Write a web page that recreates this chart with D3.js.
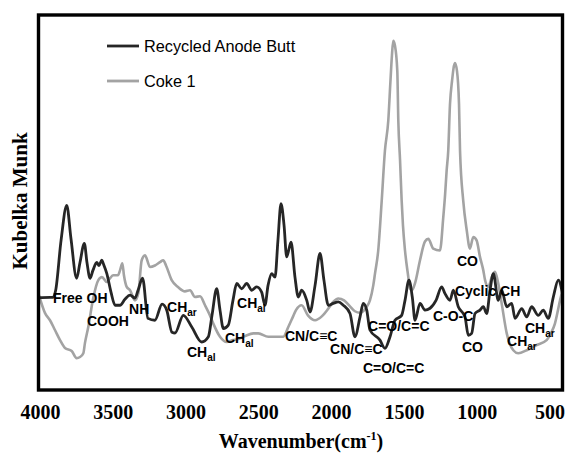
<!DOCTYPE html>
<html>
<head>
<meta charset="utf-8">
<script src="https://cdn.jsdelivr.net/npm/d3@7/dist/d3.min.js"></script>
<style>
  html, body { margin: 0; padding: 0; background: #fff; }
  svg { display: block; }
</style>
</head>
<body>
<svg id="chart" width="583" height="460"></svg>
<script>
// Diffuse-reflectance FTIR spectra (Kubelka-Munk units, arbitrary scale)
const seriesNames = ["Recycled Anode Butt", "Coke 1"];

const anodeWavenumber = [4000,3921,3900,3882,3845,3806,3777,3738,3715,3685,3667,3646,3626,3600,3584,3566,3550,3531,3502,3474,3440,3406,3371,3337,3316,3285,3248,3200,3151,3119,3083,3062,3005,2947,2879,2833,2808,2776,2753,2730,2696,2664,2638,2604,2570,2535,2501,2467,2444,2423,2398,2375,2355,2334,2313,2295,2265,2238,2215,2192,2157,2135,2100,2066,2039,2009,1975,1940,1906,1860,1826,1791,1769,1745,1723,1654,1620,1585,1551,1505,1482,1455,1432,1413,1379,1345,1310,1269,1230,1207,1173,1150,1116,1070,1047,1024,1001,967,944,921,898,875,841,818,783,749,726,680,646,612,566,532,498,463,429,400];
const anodeKM = [24.6,24.7,24.7,26.6,39.9,49.2,40.4,29.8,34.0,39.1,34.0,29.8,31.9,34.0,33.2,34.6,33.2,31.1,26.1,22.6,22.6,24.2,25.3,24.5,26.6,29.8,19.1,18.6,22.9,21.3,15.4,15.2,19.9,16.8,12.8,14.2,19.9,27.0,21.3,16.4,17.3,23.9,28.4,27.0,28.4,26.6,27.5,26.1,22.6,27.9,31.0,30.1,39.9,49.7,43.9,35.5,39.4,30.1,24.8,26.6,23.9,20.8,27.9,36.4,29.3,22.6,23.1,23.5,22.6,20.4,14.2,19.5,23.1,21.3,16.0,13.3,11.1,14.2,18.6,19.9,23.9,29.3,24.8,18.6,23.1,21.3,21.8,23.9,27.5,25.7,23.9,26.6,22.2,19.5,14.6,15.1,20.4,21.3,22.2,20.4,26.6,31.0,23.9,26.6,22.2,23.1,19.1,21.7,19.5,22.2,19.9,21.3,19.1,24.8,29.3,25.7];

const cokeWavenumber = [4000,3955,3921,3887,3852,3818,3772,3738,3715,3692,3681,3658,3624,3589,3564,3531,3509,3486,3454,3440,3424,3413,3394,3371,3337,3314,3291,3268,3234,3200,3165,3143,3124,3085,3040,2994,2959,2925,2890,2856,2822,2799,2753,2707,2664,2627,2581,2524,2490,2421,2364,2318,2284,2250,2231,2192,2149,2100,2052,2009,1977,1940,1901,1860,1826,1791,1745,1723,1700,1688,1666,1642,1620,1597,1582,1572,1563,1551,1535,1528,1516,1505,1496,1482,1461,1448,1434,1413,1379,1345,1322,1288,1242,1219,1207,1196,1185,1173,1159,1139,1125,1111,1104,1082,1058,1036,1013,990,967,944,932,910,886,864,843,818,783,738,704,646,577,509,479,452,431,417,400];
const cokeKM = [25.7,20.5,18.6,16.0,13.3,11.2,10.4,8.5,8.8,9.8,12.5,16.8,24.5,29.3,30.1,28.8,29.8,30.6,30.6,31.9,33.8,30.6,27.5,26.6,23.9,25.8,34.6,35.9,32.8,33.2,34.1,34.6,33.2,29.3,27.4,26.3,26.6,24.8,25.0,22.6,19.9,17.7,14.2,12.8,13.3,13.6,14.4,15.1,15.1,14.2,14.2,14.2,16.8,19.7,21.3,22.6,19.9,18.6,19.7,21.7,23.4,24.4,23.9,22.3,21.0,20.6,22.2,23.9,27.9,31.1,37.2,50.5,63.8,71.8,82.4,89.1,93.1,91.8,85.1,71.8,61.2,50.5,43.9,37.2,30.6,27.1,26.6,28.5,34.6,39.6,40.3,37.7,37.2,46.1,51.9,58.5,63.8,76.2,82.4,87.2,85.1,76.3,63.8,50.5,42.6,37.7,40.8,39.9,35.5,31.9,29.3,27.5,30.1,31.5,28.7,23.1,15.1,10.6,9.8,10.6,12.0,13.3,15.2,17.7,21.3,23.9,26.6];

const xTicks = [4000, 3500, 3000, 2500, 2000, 1500, 1000, 500];

// Band assignments: main text, subscript, anchor (wavenumber, KM)
const bandText = ["Free OH","COOH","NH","CH","CH","CH","CH","CN/C\u2261C","CN/C\u2261C","C=O/C=C","C=O/C=C","C-O-C","CO","Cyclic CH","CO","CH","CH"];
const bandSub  = ["","","","ar","al","al","al","","","","","","","","","ar","ar"];
const bandWavenumber = [3900,3667,3378,3117,2980,2719,2636,2307,1997,1736,1771,1290,1125,1139,1091,781,658];
const bandKM = [23.1,17.0,20.2,20.7,8.8,12.5,21.8,13.0,9.6,15.7,4.5,18.4,33.2,25.0,10.1,11.7,15.2];

const svg = d3.select("#chart");
const plot = { left: 38.5, right: 562.5, top: 15, bottom: 390 };

const x = d3.scaleLinear().domain([4000, 400]).range([plot.left, plot.right]);
const y = d3.scaleLinear().domain([0, 100]).range([plot.bottom, plot.top]);

const line = d3.line()
  .x(d => x(d[0]))
  .y(d => y(d[1]))
  .curve(d3.curveMonotoneX);

const coke = cokeWavenumber.map((w, i) => [w, cokeKM[i]]);
const anode = anodeWavenumber.map((w, i) => [w, anodeKM[i]]);

svg.append("defs").append("clipPath").attr("id", "plot-clip")
  .append("rect")
  .attr("x", plot.left).attr("y", plot.top)
  .attr("width", plot.right - plot.left).attr("height", plot.bottom - plot.top);

const g = svg.append("g").attr("clip-path", "url(#plot-clip)");

g.append("path")
  .datum(coke)
  .attr("d", line)
  .attr("fill", "none")
  .attr("stroke", "#a3a3a3")
  .attr("stroke-width", 2.6)
  .attr("stroke-linejoin", "round");

g.append("path")
  .datum(anode)
  .attr("d", line)
  .attr("fill", "none")
  .attr("stroke", "#262626")
  .attr("stroke-width", 2.8)
  .attr("stroke-linejoin", "round");

// Band labels
const labels = svg.append("g")
  .attr("font-family", "'Liberation Sans', Arial, sans-serif")
  .attr("font-weight", "bold")
  .attr("font-size", 14)
  .attr("fill", "#000");

bandText.forEach((t, i) => {
  const txt = labels.append("text")
    .attr("x", x(bandWavenumber[i]))
    .attr("y", y(bandKM[i]));
  txt.append("tspan").text(t);
  if (bandSub[i]) {
    txt.append("tspan").attr("font-size", 10).attr("dy", 4).text(bandSub[i]);
  }
});

// Frame
svg.append("rect")
  .attr("x", plot.left).attr("y", plot.top)
  .attr("width", plot.right - plot.left).attr("height", plot.bottom - plot.top)
  .attr("fill", "none")
  .attr("stroke", "#000")
  .attr("stroke-width", 3.4);

// X axis tick labels
const axis = d3.axisBottom(x).tickValues(xTicks).tickSize(0).tickPadding(0).tickFormat(d3.format("d"));
const axG = svg.append("g").attr("transform", `translate(0,${plot.bottom})`).call(axis);
axG.select(".domain").remove();
axG.selectAll("text")
  .attr("y", 29)
  .attr("dx", 1.5)
  .attr("dy", null)
  .attr("fill", "#000")
  .attr("font-family", "'Liberation Serif', 'Times New Roman', serif")
  .attr("font-weight", "bold")
  .attr("font-size", 20);

// Axis titles
const xt = svg.append("text")
  .attr("x", 301).attr("y", 448)
  .attr("text-anchor", "middle")
  .attr("font-family", "'Liberation Serif', 'Times New Roman', serif")
  .attr("font-weight", "bold")
  .attr("font-size", 20)
  .attr("fill", "#000");
xt.append("tspan").text("Wavenumber(cm");
xt.append("tspan").attr("font-size", 12).attr("dy", -8).text("-1");
xt.append("tspan").attr("dy", 8).text(")");

svg.append("text")
  .attr("transform", "translate(27,201) rotate(-90)")
  .attr("text-anchor", "middle")
  .attr("font-family", "'Liberation Serif', 'Times New Roman', serif")
  .attr("font-weight", "bold")
  .attr("font-size", 21)
  .attr("fill", "#000")
  .text("Kubelka Munk");

// Legend
const legend = svg.append("g")
  .attr("font-family", "'Liberation Sans', Arial, sans-serif")
  .attr("font-size", 16.3);
const legendColors = ["#262626", "#a3a3a3"];
const legendY = [46, 81];
seriesNames.forEach((name, i) => {
  legend.append("line")
    .attr("x1", 107).attr("x2", 139)
    .attr("y1", legendY[i]).attr("y2", legendY[i])
    .attr("stroke", legendColors[i])
    .attr("stroke-width", 2.8);
  legend.append("text")
    .attr("x", 144).attr("y", legendY[i] + 6)
    .attr("fill", "#000")
    .text(name);
});
</script>
</body>
</html>
